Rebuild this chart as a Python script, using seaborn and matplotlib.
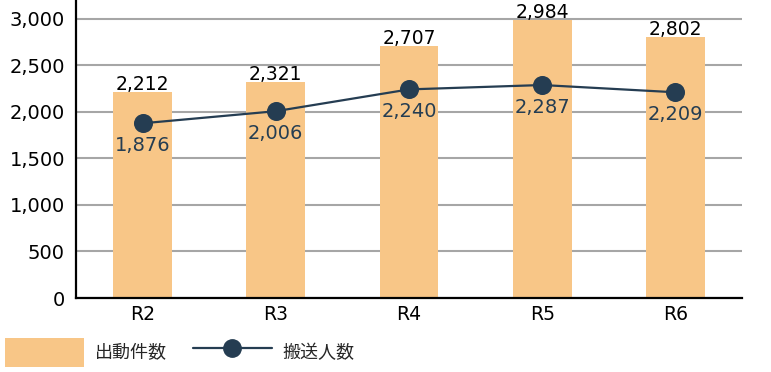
import matplotlib
matplotlib.use("Agg")
import matplotlib.pyplot as plt
import seaborn as sns
import pandas as pd
from matplotlib.patches import Patch
from matplotlib.lines import Line2D

years = ["R2", "R3", "R4", "R5", "R6"]
dispatches = [2212, 2321, 2707, 2984, 2802]
transported = [1876, 2006, 2240, 2287, 2209]
yticks = [0, 500, 1000, 1500, 2000, 2500, 3000]

bar_color = "#F8C687"
line_color = "#253D52"

sns.set_theme(style="white")
plt.rcParams["font.family"] = ["DejaVu Sans", "Noto Sans CJK JP"]

df = pd.DataFrame({"year": years, "dispatch": dispatches, "transport": transported})

fig = plt.figure(figsize=(7.71, 3.72), dpi=100)
ax = fig.add_axes([76/771, 1-298/372, (742-76)/771, 298/372])

sns.barplot(data=df, x="year", y="dispatch", order=years, color=bar_color,
            width=0.44, saturation=1, linewidth=0, edgecolor="none", ax=ax, zorder=2)
sns.pointplot(data=df, x="year", y="transport", order=years, color=line_color,
              markers="o", markersize=12.5, linewidth=1.6, ax=ax, zorder=4)

ax.set_xlim(-0.5, 4.5)
ax.set_ylim(0, 3200)
ax.set_yticks(yticks)
ax.set_yticklabels([f"{v:,}" for v in yticks])
ax.set_xlabel("")
ax.set_ylabel("")

ax.yaxis.grid(True, color="#A6A6A6", linewidth=1.5, zorder=0)
ax.xaxis.grid(False)
ax.set_axisbelow(True)

for s in ["top", "right"]:
    ax.spines[s].set_visible(False)
for s in ["left", "bottom"]:
    ax.spines[s].set_visible(True)
    ax.spines[s].set_color("black")
    ax.spines[s].set_linewidth(1.6)

ax.tick_params(axis="y", length=0, labelsize=14, pad=8, colors="black")
ax.tick_params(axis="x", which="major", length=0, labelsize=13.5, pad=5, colors="black")
ax.set_xticks([-0.5 + i for i in range(6)], minor=True)
ax.tick_params(axis="x", which="minor", direction="in", length=6, width=1.3, color="black")

ax.bar_label(ax.containers[0], labels=[f"{v:,}" for v in dispatches],
             padding=-1.5, fontsize=13.5, color="black")

for i, v in enumerate(transported):
    ax.annotate(f"{v:,}", (i, v), xytext=(0, -22), textcoords="offset pixels",
                ha="center", va="center", fontsize=14, color=line_color, zorder=5)

handles = [Patch(facecolor=bar_color, edgecolor="none", label="出動件数"),
           Line2D([0], [0], color=line_color, marker="o", markersize=12.5,
                  linewidth=1.6, label="搬送人数")]
fig.legend(handles=handles, loc="lower left", bbox_to_anchor=(5/771, 1-367/372),
           ncol=2, frameon=False, fontsize=13, handlelength=4.4, handleheight=2.1,
           handletextpad=0.6, columnspacing=1.4, borderpad=0, borderaxespad=0)

fig.savefig("out.png", dpi=100)
